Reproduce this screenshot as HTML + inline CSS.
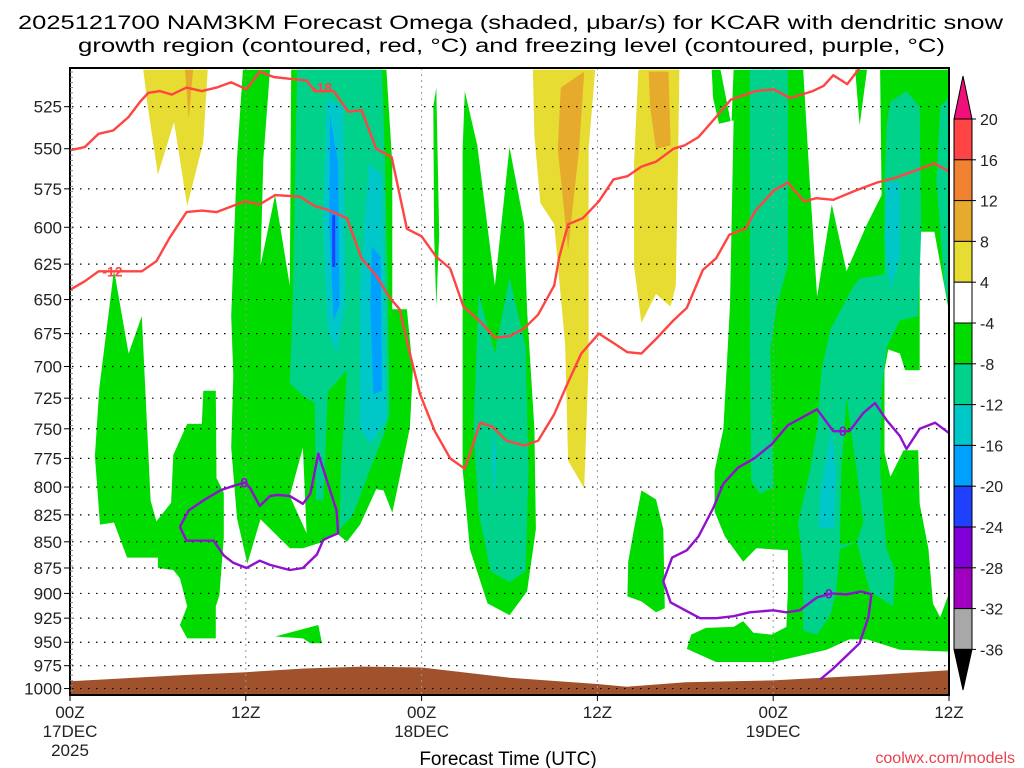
<!DOCTYPE html>
<html><head><meta charset="utf-8"><style>
html,body{margin:0;padding:0;background:#fff;}
svg{display:block;font-family:"Liberation Sans",sans-serif;}
</style></head><body>
<svg id="chart" width="1024" height="768" viewBox="0 0 1024 768" xmlns="http://www.w3.org/2000/svg">
<defs><clipPath id="plotclip"><rect x="70" y="68" width="879" height="627"/></clipPath></defs>
<text x="18" y="29" font-size="19" textLength="985" lengthAdjust="spacingAndGlyphs">2025121700 NAM3KM Forecast Omega (shaded, μbar/s) for KCAR with dendritic snow</text>
<text x="78" y="52" font-size="19" textLength="867" lengthAdjust="spacingAndGlyphs">growth region (contoured, red, °C) and freezing level (contoured, purple, °C)</text>
<g id="shading" clip-path="url(#plotclip)"></g>
<g id="terrain" clip-path="url(#plotclip)"></g>
<g id="grid"></g>
<g id="contours" clip-path="url(#plotclip)"></g>
<g id="axes"></g>
<g id="colorbar"></g>
<text x="508" y="765" font-size="19" text-anchor="middle">Forecast Time (UTC)</text>
<text x="1015" y="763" font-size="16" text-anchor="end" fill="#e8404f">coolwx.com/models</text>
</svg>
<script>
// ---- data ----
const yLevels = [525,550,575,600,625,650,675,700,725,750,775,800,825,850,875,900,925,950,975,1000];
const xTickHours = [0,12,24,36,48,60];
const xTickLabels = [["00Z","17DEC","2025"],["12Z"],["00Z","18DEC"],["12Z"],["00Z","19DEC"],["12Z"]];
const cbLevels = [20,16,12,8,4,-4,-8,-12,-16,-20,-24,-28,-32,-36];
const cbColors = ["#ff4444","#f08232","#e6aa2d","#e6dc32","#ffffff","#00dc00","#00d28c","#00c8c8","#00a0ff","#2040ff","#8000d8","#a000c0","#a8a8a8"];
const shadeColors = {yellow:"#e6dc32",orange:"#e6aa2d",white:"#ffffff",green:"#00dc00",teal:"#00d28c",cyan:"#00c8c8",blue:"#00a0ff",dblue:"#2040ff"};

const yellow1 = [[5.0,504],[9.4,504],[9.1,546],[8.0,586],[7.1,534],[6.0,566],[5.3,524]];
const orange1 = [[7.85,504],[8.4,504],[8.1,532]];
const greenA = [[1.7,773],[2.0,717],[3.0,629],[4.0,690],[4.9,662],[5.5,812],[5.9,831],[6.9,814],[7.05,772],[8.0,746],[9.0,746],[9.1,719],[9.95,719],[10.0,792],[10.5,805],[10.5,846],[10.2,902],[9.95,913],[9.95,946],[8.0,946],[7.5,932],[8.0,913],[7.5,885],[7.05,877],[6.0,875],[6.0,865],[3.9,865],[3.0,832],[2.05,834]];
const greenB = [[11.8,504],[13.65,504],[13.2,556],[13.0,626],[14.0,579],[15.0,640],[15.1,504],[21.6,504],[22.0,559],[22.0,657],[23.0,657],[23.4,703],[23.2,749],[22.5,792],[22.0,823],[21.4,803],[20.9,802],[19.8,834],[18.9,850],[18.2,842],[17.3,850],[15.9,856],[15.0,856],[13.0,829],[12.1,871],[11.4,828],[11.0,766],[11.15,707],[11.0,662],[11.4,556]];
const whiteB = [[15.0,808],[15.9,766],[16.15,842]];
const tealB = [[15.1,504],[21.3,504],[21.5,559],[21.7,648],[21.8,739],[21.4,756],[20.5,784],[19.3,826],[18.4,838],[18.5,784],[18.9,703],[17.6,720],[17.3,812],[16.8,812],[16.7,729],[15.9,723],[15.0,713],[15.2,654],[15.5,504]];
const cyanB1 = [[17.5,520],[18.65,525],[18.8,654],[18.2,690],[17.6,671],[17.3,598]];
const cyanB2 = [[20.4,559],[21.3,566],[21.5,660],[21.6,742],[20.5,763],[19.8,749],[19.8,643]];
const blueB1 = [[17.75,530],[18.3,559],[18.4,654],[18.0,665],[17.7,598]];
const blueB2 = [[20.6,613],[21.2,620],[21.3,719],[20.7,722],[20.5,654]];
const dblueB = [[17.9,592],[18.1,592],[18.1,627],[17.9,627]];
const greenStreak = [[24.8,525],[25.0,514],[25.2,605],[25.0,655],[24.85,605]];
const greenLow = [[14.0,944],[16.95,932],[17.2,951],[16.4,951],[15.9,946]];
const greenC = [[26.95,516],[27.8,548],[29.0,640],[30.0,549],[31.0,598],[31.2,658],[31.7,750],[31.8,838],[31.2,898],[30.0,922],[28.5,910],[27.3,857],[26.8,784],[26.8,658],[26.8,551]];
const tealC = [[27.9,646],[29.0,690],[30.0,634],[31.1,685],[31.3,784],[31.1,878],[30.0,889],[28.7,878],[27.9,823],[27.55,750]];
const cyanC = [[28.9,750],[29.1,771],[29.0,812],[28.8,771]];
const yellow2 = [[31.6,504],[35.85,504],[35.4,550],[35.4,697],[35.1,801],[34.0,777],[33.8,684],[33.05,598],[32.1,584],[31.7,542]];
const orange2 = [[33.5,514],[35.1,505],[34.75,550],[34.0,615],[33.3,550]];
const yellow3 = [[38.8,504],[41.6,504],[41.5,559],[41.35,640],[41.0,655],[40.0,646],[39.0,667],[38.5,626],[38.5,559]];
const orange3 = [[39.5,505],[40.85,505],[41.0,548],[40.0,550],[39.6,525]];
const greenD = [[39.0,803],[40.0,811],[40.5,838],[40.6,915],[40.0,919],[39.0,908],[38.05,903],[38.1,869],[38.5,838]];
const greenE = [[43.8,504],[60.05,504],[60.05,960],[56.65,958],[54.4,947],[53.2,947],[51.65,958],[48.0,971],[44.1,971],[42.1,957],[42.4,942],[43.4,935],[45.3,934],[45.95,928],[46.65,940],[47.9,942],[48.9,934],[49.0,896],[49.0,858],[46.85,856],[45.95,869],[44.7,845],[44.0,822],[44.0,786],[44.6,750],[45.05,654],[45.3,533],[44.3,535],[43.9,520]];
const whiteE0 = [[44.4,504],[45.3,504],[45.15,536]];
const whiteE1 = [[50.05,504],[53.6,504],[53.9,536],[54.4,504],[55.3,504],[55.4,579],[54.4,598],[53.0,630],[52.0,585],[51.0,648],[50.5,571]];
const whiteE2 = [[58.0,603],[59.0,603],[59.95,656],[60.05,662],[60.05,898],[59.4,924],[58.9,910],[58.6,857],[58.0,815],[57.9,768],[56.9,768],[56.0,791],[55.6,770],[55.6,703],[55.85,687],[56.65,690],[57.0,703],[58.0,703]];
const tealE1 = [[46.4,504],[49.0,504],[49.0,626],[48.25,654],[47.8,687],[48.0,800],[47.1,806],[46.5,795],[46.4,687],[46.4,571]];
const tealE2 = [[56.0,522],[57.1,516],[58.0,525],[58.1,602],[57.9,662],[56.65,665],[55.75,685],[55.4,717],[55.3,786],[55.75,857],[56.3,877],[56.2,913],[54.6,898],[53.7,850],[52.55,857],[52.3,898],[51.9,922],[51.0,942],[50.05,938],[50.05,877],[49.7,832],[50.5,786],[51.0,750],[51.3,703],[51.9,672],[53.5,640],[53.9,635],[55.6,632],[55.6,571],[55.75,536]];
const tealE3 = [[59.4,525],[60.05,519],[60.05,656],[59.7,640],[59.15,571]];
const greenE2 = [[53.0,724],[53.7,786],[54.15,832],[53.7,850],[52.55,853],[52.65,786]];
const cyanE1 = [[52.0,750],[52.3,786],[52.2,837],[51.1,837],[51.2,804]];
const cyanE2 = [[55.75,571],[56.65,571],[56.65,621],[56.0,643],[55.6,608]];

const shadeOrder = [[yellow1,"yellow"],[orange1,"orange"],[greenA,"green"],[greenB,"green"],[whiteB,"white"],[tealB,"teal"],[cyanB1,"cyan"],[cyanB2,"cyan"],[blueB1,"blue"],[blueB2,"blue"],[dblueB,"dblue"],[greenStreak,"green"],[greenLow,"green"],[greenC,"green"],[tealC,"teal"],[cyanC,"cyan"],[yellow2,"yellow"],[orange2,"orange"],[yellow3,"yellow"],[orange3,"orange"],[greenD,"green"],[greenE,"green"],[whiteE0,"white"],[whiteE1,"white"],[whiteE2,"white"],[tealE1,"teal"],[tealE2,"teal"],[tealE3,"teal"],[greenE2,"green"],[cyanE1,"cyan"],[cyanE2,"cyan"]];

const surfHours = [0,8,12,16,20,24,30,36,38,42,48,54,60];
const surfPres = [992,985,982,978,976,977,988,995,998,993,991,986,980];

const redUpper = [[0,551],[1.0,549],[1.95,541],[2.95,539],[4.0,531],[4.8,522],[5.35,517],[6.15,516],[6.95,518],[7.95,514],[9.0,516],[10.0,514],[11.0,511],[12.05,515],[12.95,505],[13.9,508],[15.0,509],[16.15,510],[16.7,516],[18.0,516],[19.0,528],[19.9,527],[20.9,550],[21.95,555],[23.0,601],[24.0,606],[25.0,620],[25.95,628],[26.85,655],[28.0,666],[29.0,678],[30.0,677],[31.0,671],[31.95,661],[33.05,640],[33.4,620],[34.0,598],[35.0,594],[36.1,583],[37.1,569],[38.05,567],[39.0,561],[40.0,558],[41.2,550],[41.95,548],[42.9,543],[44.1,531],[45.1,521],[46.8,516],[48.05,515],[49.15,520],[50.7,516],[51.45,513],[52.1,507],[53.05,512],[53.9,503]];
const redLower = [[0,643],[1.0,637],[1.95,630],[3.9,630],[4.9,630],[5.9,623],[6.8,607],[7.95,590],[9.0,589],[10.0,590],[11.95,583],[12.95,585],[14.0,579],[15.7,580],[16.7,586],[17.75,589],[18.9,594],[19.9,621],[20.9,633],[21.85,649],[22.5,657],[23.2,690],[23.9,722],[24.9,752],[25.95,775],[26.95,784],[28.0,745],[28.8,748],[29.8,760],[31.0,764],[31.95,760],[33.05,738],[33.9,715],[34.9,690],[36.1,675],[37.1,682],[38.05,689],[39.0,690],[40.0,679],[41.2,665],[42.1,656],[43.2,629],[44.1,621],[45.0,605],[46.1,601],[46.8,589],[48.05,576],[49.0,571],[50.1,583],[50.95,581],[52.1,582],[53.65,576],[55.1,571],[56.35,568],[57.55,564],[59.0,559],[60.0,564]];
const purpleLoop = [[7.5,836],[8.1,821],[9.1,812],[10.25,803],[11.15,799],[11.95,796],[12.3,801],[12.95,817],[13.65,808],[14.2,807],[15.0,808],[15.9,815],[16.4,806],[16.95,771],[18.2,821],[18.3,842],[17.3,848],[16.85,862],[15.9,875],[15.0,877],[13.65,872],[12.95,868],[12.05,875],[11.15,870],[10.5,863],[9.8,849],[7.95,849],[7.5,836]];
const purpleRight = [[51.2,990],[52.1,978],[53.9,951],[54.5,924],[54.7,901],[54.0,898],[53.0,901],[52.0,900],[51.0,904],[49.8,917],[48.9,919],[48.0,917],[46.4,919],[45.3,923],[44.1,925],[43.0,925],[41.0,909],[40.5,888],[41.1,865],[42.1,858],[42.9,845],[43.9,819],[44.6,797],[45.6,783],[46.7,775],[47.9,763],[49.0,747],[51.0,734],[52.1,752],[53.2,752],[54.15,737],[54.95,729],[55.75,743],[56.65,756],[57.1,767],[58.0,750],[59.05,745],[60.05,754]];
const contourLabels = [["-18",17.2,514,"#ff4444"],["-12",2.9,630,"#ff4444"],["0",11.9,796,"#9010d0"],["0",52.75,752,"#9010d0"],["0",51.8,900,"#9010d0"]];

// ---- scales ----
const NS = "http://www.w3.org/2000/svg";
function xs(h){ return 70 + h*14.65; }
function ys(p){ return 106.7 + 903*Math.log(p/525); }
function mk(tag, attrs, parent){ const e=document.createElementNS(NS,tag); for(const k in attrs) e.setAttribute(k,attrs[k]); parent.appendChild(e); return e; }
function pts(arr){ return arr.map(d=>xs(d[0]).toFixed(1)+","+ys(d[1]).toFixed(1)).join(" "); }

// shading
const gS = document.getElementById("shading");
shadeOrder.forEach((r,i)=>{
  const el = mk("polygon",{points:pts(r[0]),fill:shadeColors[r[1]]},gS);
  
  
});

// terrain
const gT = document.getElementById("terrain");
let tp = surfHours.map((h,i)=>xs(h).toFixed(1)+","+ys(surfPres[i]).toFixed(1)).join(" ");
tp += " "+xs(60)+",700 "+xs(0)+",700";
const terr = mk("polygon",{points:tp,fill:"#a0522d"},gT);



// grid
const gG = document.getElementById("grid");
yLevels.forEach(p=>{
  const l = mk("line",{x1:72,x2:949,y1:ys(p),y2:ys(p),stroke:"#000","stroke-width":1.2,"stroke-dasharray":"1.5 6.5"},gG);
  
  
});
xTickHours.slice(1,-1).forEach(h=>{
  const l = mk("line",{x1:xs(h),x2:xs(h),y1:68,y2:695,stroke:"#999","stroke-width":1,"stroke-dasharray":"2 4"},gG);
  
  
});

// contours
const gC = document.getElementById("contours");
[[redUpper,"#ff4444","dgz-contour-minus18"],[redLower,"#ff4444","dgz-contour-minus12"],[purpleLoop,"#9010d0","freezing-level-loop"],[purpleRight,"#9010d0","freezing-level-right"]].forEach(c=>{
  const el = mk("polyline",{points:pts(c[0]),fill:"none",stroke:c[1],"stroke-width":2.4,"stroke-linejoin":"round"},gC);
  
  
});
contourLabels.forEach(c=>{
  const t = mk("text",{x:xs(c[1]),y:ys(c[2])+5,"font-size":14,"font-weight":"bold","text-anchor":"middle",fill:c[3]},gC);
  t.textContent = c[0];
  
  
});

// axes
const gA = document.getElementById("axes");
const frame = mk("rect",{x:70,y:68,width:879,height:627,fill:"none",stroke:"#000","stroke-width":2},gA);


for(let y=72;y<695;y+=5.2){ mk("line",{x1:70,x2:73,y1:y,y2:y,stroke:"#888","stroke-width":1},gA); }
yLevels.forEach(p=>{
  mk("line",{x1:64,x2:70,y1:ys(p),y2:ys(p),stroke:"#000","stroke-width":1},gA);
  const t = mk("text",{x:62,y:ys(p)+6,"font-size":17,"text-anchor":"end",fill:"#222"},gA);
  t.textContent = p;
  
  
});
xTickHours.forEach((h,i)=>{
  mk("line",{x1:xs(h),x2:xs(h),y1:695,y2:701,stroke:"#000","stroke-width":1},gA);
  xTickLabels[i].forEach((s,j)=>{
    const t = mk("text",{x:xs(h),y:718+j*19,"font-size":17,"text-anchor":"middle",fill:"#222"},gA);
    t.textContent = s;
    
    
  });
});

// colorbar
const gB = document.getElementById("colorbar");
const cbTop = 119, cbStep = 40.8, cbX = 954, cbW = 18;
mk("polygon",{points:`${cbX},${cbTop} ${cbX+cbW},${cbTop} ${cbX+cbW/2},76`,fill:"#f0107a",stroke:"#000","stroke-width":1},gB);
cbColors.forEach((c,i)=>{
  const r = mk("rect",{x:cbX,y:cbTop+i*cbStep,width:cbW,height:cbStep,fill:c,stroke:"#000","stroke-width":1},gB);
  
  
});
const cbBot = cbTop + cbColors.length*cbStep;
mk("polygon",{points:`${cbX},${cbBot} ${cbX+cbW},${cbBot} ${cbX+cbW/2},690`,fill:"#000",stroke:"#000","stroke-width":1},gB);
cbLevels.forEach((v,i)=>{
  const y = cbTop + i*cbStep;
  mk("line",{x1:cbX+cbW,x2:cbX+cbW+4,y1:y,y2:y,stroke:"#000"},gB);
  const t = mk("text",{x:980,y:y+6,"font-size":16,fill:"#222"},gB);
  t.textContent = v;
  
  
});
</script>
</body></html>
